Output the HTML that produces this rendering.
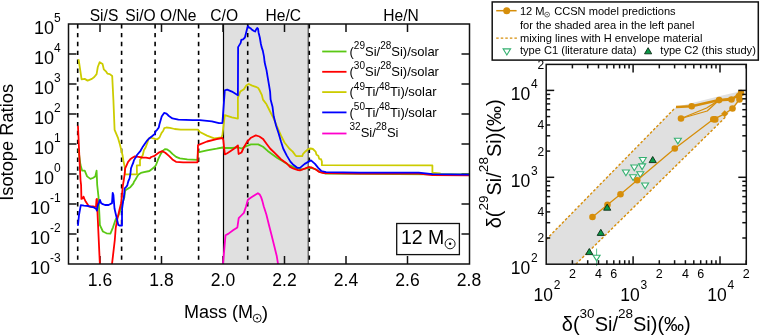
<!DOCTYPE html><html><head><meta charset="utf-8"><style>html,body{margin:0;padding:0;background:#fff;overflow:hidden}svg{display:block;will-change:transform;font-family:"Liberation Sans",sans-serif}</style></head><body>
<svg width="760" height="335" viewBox="0 0 760 335">
<defs><clipPath id="cl"><rect x="68.5" y="24" width="401" height="240"/></clipPath><clipPath id="cr"><rect x="546" y="64.2" width="200.2" height="199.8"/></clipPath></defs>
<rect x="223.5" y="24" width="84.7" height="240" fill="#e0e0e0"/>
<line x1="308.2" y1="24" x2="308.2" y2="264" stroke="#222" stroke-width="0.9"/>
<line x1="223.5" y1="24" x2="223.5" y2="264" stroke="#000" stroke-width="1.2"/>
<line x1="77.7" y1="24" x2="77.7" y2="264" stroke="#000" stroke-width="1.6" stroke-dasharray="4.4 4.5"/>
<line x1="121.6" y1="24" x2="121.6" y2="264" stroke="#000" stroke-width="1.6" stroke-dasharray="4.4 4.5"/>
<line x1="155.1" y1="24" x2="155.1" y2="264" stroke="#000" stroke-width="1.6" stroke-dasharray="4.4 4.5"/>
<line x1="198.6" y1="24" x2="198.6" y2="264" stroke="#000" stroke-width="1.6" stroke-dasharray="4.4 4.5"/>
<line x1="247.7" y1="24" x2="247.7" y2="264" stroke="#000" stroke-width="1.6" stroke-dasharray="4.4 4.5"/>
<line x1="309.3" y1="24" x2="309.3" y2="264" stroke="#000" stroke-width="1.6" stroke-dasharray="4.4 4.5"/>
<g stroke="#111" stroke-width="1.5" fill="none">
<line x1="68.5" y1="234" x2="76.5" y2="234"/><line x1="461.5" y1="234" x2="469.5" y2="234"/>
<line x1="68.5" y1="204" x2="76.5" y2="204"/><line x1="461.5" y1="204" x2="469.5" y2="204"/>
<line x1="68.5" y1="174" x2="76.5" y2="174"/><line x1="461.5" y1="174" x2="469.5" y2="174"/>
<line x1="68.5" y1="144" x2="76.5" y2="144"/><line x1="461.5" y1="144" x2="469.5" y2="144"/>
<line x1="68.5" y1="114" x2="76.5" y2="114"/><line x1="461.5" y1="114" x2="469.5" y2="114"/>
<line x1="68.5" y1="84" x2="76.5" y2="84"/><line x1="461.5" y1="84" x2="469.5" y2="84"/>
<line x1="68.5" y1="54" x2="76.5" y2="54"/><line x1="461.5" y1="54" x2="469.5" y2="54"/>
<line x1="100.0" y1="24.0" x2="100.0" y2="32.0"/><line x1="100.0" y1="256.0" x2="100.0" y2="264.0"/>
<line x1="161.5" y1="24.0" x2="161.5" y2="32.0"/><line x1="161.5" y1="256.0" x2="161.5" y2="264.0"/>
<line x1="222.99999999999997" y1="24.0" x2="222.99999999999997" y2="32.0"/><line x1="222.99999999999997" y1="256.0" x2="222.99999999999997" y2="264.0"/>
<line x1="284.5" y1="24.0" x2="284.5" y2="32.0"/><line x1="284.5" y1="256.0" x2="284.5" y2="264.0"/>
<line x1="345.99999999999994" y1="24.0" x2="345.99999999999994" y2="32.0"/><line x1="345.99999999999994" y1="256.0" x2="345.99999999999994" y2="264.0"/>
<line x1="407.5" y1="24.0" x2="407.5" y2="32.0"/><line x1="407.5" y1="256.0" x2="407.5" y2="264.0"/>
</g>
<g clip-path="url(#cl)" fill="none" stroke-width="1.8" stroke-linejoin="round" stroke-linecap="round">
<polyline points="78.5,150.0 80.5,165.0 82.2,170.7 84.7,170.7 87.1,176.4 90.4,178.9 92.9,178.0 95.3,176.4 96.6,170.7 97.2,185.0 98.5,196.9 99.4,214.8 99.9,225.2 102.9,231.5 106.5,233.3 110.4,233.6 113.0,227.3 115.7,219.3 118.4,215.7 120.3,210.2 122.5,203.0 124.3,197.7 125.1,191.0 126.2,189.6 128.4,188.4 130.3,187.3 131.8,185.4 133.3,183.6 134.0,181.7 135.5,179.5 137.0,176.9 138.5,174.4 140.9,172.9 144.0,172.1 149.4,171.0 152.0,169.0 154.5,167.0 156.0,165.0 158.2,159.1 160.4,154.6 162.7,150.9 164.9,149.1 167.2,149.4 169.4,150.9 172.4,153.9 176.1,156.9 179.9,158.4 187.3,159.4 197.5,159.9 198.0,152.3 207.0,150.4 216.6,148.7 222.6,147.5 224.8,148.0 231.9,148.0 237.9,147.3 241.5,148.5 246.3,146.1 251.0,144.4 258.2,144.4 263.0,146.8 267.7,150.9 272.5,154.4 277.3,158.0 283.2,161.6 289.2,165.2 296.4,168.3 302.0,169.5 308.0,168.0 311.0,167.8 316.0,169.5 320.0,172.0 325.0,173.5 469.0,174.5" stroke="#5ac814"/>
<polyline points="78.7,59.8 81.6,79.4 84.7,78.9 87.6,80.6 91.9,78.9 94.3,77.0 96.6,74.1 97.8,67.0 99.7,62.2 102.6,64.1 103.8,69.3 106.2,71.7 107.4,73.6 109.8,74.1 112.2,76.0 113.4,100.0 114.6,129.8 118.1,138.2 119.9,144.5 122.5,155.0 123.4,160.7 124.9,167.9 124.9,174.3 137.0,174.3 136.8,165.4 140.0,165.4 140.0,160.0 141.3,157.9 142.8,155.0 143.9,150.2 145.6,147.5 147.3,143.0 148.7,138.5 150.5,137.6 152.3,138.2 155.2,138.9 157.3,139.3 159.5,137.5 160.4,135.5 161.6,132.8 163.1,131.0 164.3,128.1 166.4,127.5 169.9,127.8 174.7,129.0 180.7,129.6 198.0,129.6 199.9,132.0 207.0,135.6 214.2,138.4 221.4,137.5 222.4,135.0 224.8,115.1 231.9,117.4 237.9,118.6 237.9,97.6 240.3,91.6 243.9,89.2 246.3,85.6 248.7,84.0 252.2,85.6 255.8,86.8 258.2,88.0 259.4,90.0 261.8,94.8 263.0,99.6 266.5,104.3 270.1,111.5 273.7,118.6 277.3,127.0 280.9,135.4 284.5,142.5 289.2,148.5 292.7,151.6 295.0,154.8 296.3,156.1 302.2,156.1 303.1,153.9 305.7,151.2 308.4,149.0 310.7,148.5 312.9,149.0 315.6,151.6 316.5,154.8 318.3,155.7 319.2,158.8 321.0,159.2 321.9,161.5 321.9,165.2 432.4,165.4 432.4,172.7 440.0,173.3" stroke="#cccc00"/>
<polyline points="78.0,126.5 79.5,160.0 80.5,180.0 81.1,185.0 81.4,198.9 82.6,198.4 83.5,196.6 84.4,198.9 85.7,201.6 87.5,204.2 88.9,206.5 93.0,206.5 95.1,206.9 96.0,206.5 96.5,199.3 96.9,198.9 97.2,206.5 97.6,215.0 99.9,265.0" stroke="#ff0000"/>
<polyline points="111.9,265.0 114.8,240.0 115.7,228.2 117.5,218.4 119.3,210.4 121.1,203.2 122.0,194.3 122.9,185.4 123.8,180.0 124.5,175.0 125.2,168.3 127.0,164.3 128.1,161.8 130.2,159.3 132.7,157.5 134.9,156.4 138.5,156.8 142.1,157.5 146.0,157.6 149.8,158.3 151.2,157.0 154.5,155.9 156.6,154.3 159.3,152.3 162.2,151.1 165.3,152.8 168.9,155.9 172.4,159.4 176.0,161.8 183.2,162.3 197.5,162.3 198.0,145.1 207.0,141.5 216.6,139.2 222.4,138.0 223.3,140.0 224.8,154.4 227.2,153.2 230.7,150.9 234.3,148.5 237.9,145.4 238.6,154.0 241.5,152.5 243.9,147.3 247.5,141.3 251.0,137.7 255.8,135.4 259.4,136.5 263.0,138.9 266.5,143.7 270.1,148.5 274.9,153.2 280.9,159.2 286.8,163.5 290.0,166.9 293.6,168.7 298.1,170.1 300.0,170.3 304.7,168.7 308.7,167.1 311.8,167.5 315.8,169.5 318.9,171.8 322.9,173.0 360.0,173.6 418.7,173.6 432.4,175.0 469.0,175.4" stroke="#ff0000"/>
<polyline points="78.0,225.2 79.0,215.0 80.8,205.1 84.0,205.6 88.4,206.0 91.1,206.9 93.8,207.4 96.0,208.7 96.9,210.5 97.8,205.6 99.0,202.5 99.9,199.8 101.0,202.9 102.8,204.2 105.0,205.0 108.6,205.0 110.0,204.2 112.0,203.1 112.4,197.0 112.7,192.8 113.4,195.0 114.5,208.5 115.8,214.3 117.2,220.1 118.3,225.0 119.3,225.5 122.0,225.5 122.0,215.7 122.1,208.5 123.0,202.2 123.9,196.8 124.3,193.7 124.7,188.4 126.2,186.9 127.3,185.4 127.7,183.6 128.4,181.0 129.6,178.4 130.4,174.0 130.7,171.0 131.0,168.3 132.0,165.7 133.1,163.2 133.8,160.7 134.9,158.6 136.3,156.4 137.0,155.0 140.5,150.8 143.0,146.4 145.2,143.2 147.3,140.3 149.5,138.2 152.3,136.0 154.8,133.9 155.6,131.4 157.3,129.6 158.8,127.4 159.4,124.5 161.7,116.5 164.1,112.9 166.5,113.6 168.9,116.0 172.4,118.4 178.4,119.6 192.7,120.1 199.9,120.1 211.8,121.3 219.0,123.2 222.4,123.0 224.8,90.4 227.2,89.7 231.9,91.6 237.9,95.2 238.1,47.1 240.7,42.9 241.3,39.9 243.1,39.3 244.9,37.5 246.1,32.7 247.3,28.0 247.9,26.2 249.1,27.4 250.9,28.6 252.1,29.8 253.9,31.0 255.1,31.5 256.3,29.2 257.2,28.0 258.0,28.6 258.6,32.7 259.8,37.5 260.8,43.5 261.6,47.1 262.8,50.6 264.0,56.6 264.6,62.0 265.5,66.0 266.5,70.1 267.7,77.3 268.9,84.4 270.1,91.6 270.6,99.6 272.5,106.7 273.7,116.3 276.1,125.8 278.5,133.0 280.9,141.3 283.2,148.5 286.8,155.6 290.4,161.6 292.7,164.2 297.2,167.8 300.0,167.9 304.7,163.9 308.7,161.6 311.0,160.4 315.0,163.9 318.2,167.9 321.3,171.0 326.0,172.2 360.0,172.6 418.7,172.6 432.4,174.1 469.0,174.6" stroke="#0000ff"/>
<polyline points="222.9,265.0 225.5,235.3 228.2,233.9 233.4,230.0 237.4,227.4 238.7,218.2 241.3,215.5 243.9,212.9 246.1,206.3 247.9,199.7 251.8,197.1 255.8,194.5 257.9,193.2 259.7,194.5 261.1,197.1 262.4,201.1 263.7,206.3 266.3,214.2 268.9,224.7 271.6,235.3 274.2,245.8 276.8,256.3 278.2,265.0" stroke="#ff00cc"/>
</g>
<g stroke="#111" stroke-width="1.5" fill="none">
<rect x="68.5" y="24.0" width="401.0" height="240.0"/>
</g>
<text x="60.7" y="274.0" font-size="18" text-anchor="end" fill="#000">10<tspan font-size="12" dy="-12">-3</tspan></text>
<text x="60.7" y="244.0" font-size="18" text-anchor="end" fill="#000">10<tspan font-size="12" dy="-12">-2</tspan></text>
<text x="60.7" y="214.0" font-size="18" text-anchor="end" fill="#000">10<tspan font-size="12" dy="-12">-1</tspan></text>
<text x="60.7" y="184.0" font-size="18" text-anchor="end" fill="#000">10<tspan font-size="12" dy="-12">0</tspan></text>
<text x="60.7" y="154.0" font-size="18" text-anchor="end" fill="#000">10<tspan font-size="12" dy="-12">1</tspan></text>
<text x="60.7" y="124.0" font-size="18" text-anchor="end" fill="#000">10<tspan font-size="12" dy="-12">2</tspan></text>
<text x="60.7" y="94.0" font-size="18" text-anchor="end" fill="#000">10<tspan font-size="12" dy="-12">3</tspan></text>
<text x="60.7" y="64.0" font-size="18" text-anchor="end" fill="#000">10<tspan font-size="12" dy="-12">4</tspan></text>
<text x="60.7" y="34.0" font-size="18" text-anchor="end" fill="#000">10<tspan font-size="12" dy="-12">5</tspan></text>
<text x="100.0" y="286" font-size="17.5" text-anchor="middle">1.6</text>
<text x="161.5" y="286" font-size="17.5" text-anchor="middle">1.8</text>
<text x="223.0" y="286" font-size="17.5" text-anchor="middle">2.0</text>
<text x="284.5" y="286" font-size="17.5" text-anchor="middle">2.2</text>
<text x="346.0" y="286" font-size="17.5" text-anchor="middle">2.4</text>
<text x="407.5" y="286" font-size="17.5" text-anchor="middle">2.6</text>
<text x="469.0" y="286" font-size="17.5" text-anchor="middle">2.8</text>
<text x="184" y="318.4" font-size="18">Mass (M</text>
<text x="261.8" y="318.6" font-size="19">)</text>
<circle cx="257.2" cy="318.2" r="4" fill="none" stroke="#000" stroke-width="0.9"/><circle cx="257.2" cy="318.2" r="1" fill="#000"/>
<text transform="translate(12.8,200.8) rotate(-90)" font-size="18.3">Isotope Ratios</text>
<text x="89.7" y="20.9" font-size="15.6">Si/S</text>
<text x="125.3" y="20.9" font-size="15.6">Si/O</text>
<text x="160" y="20.9" font-size="15.6">O/Ne</text>
<text x="210.3" y="20.9" font-size="15.6">C/O</text>
<text x="265.6" y="20.9" font-size="15.6">He/C</text>
<text x="383.3" y="20.9" font-size="15.6">He/N</text>
<line x1="322.2" y1="51.5" x2="346.5" y2="51.5" stroke="#5ac814" stroke-width="1.8"/>
<text x="349.5" y="55.8" font-size="13">(<tspan font-size="10" dy="-6.8">29</tspan><tspan dy="6.8">Si/</tspan><tspan font-size="10" dy="-6.8">28</tspan><tspan dy="6.8">Si)/solar</tspan></text>
<line x1="322.2" y1="71.8" x2="346.5" y2="71.8" stroke="#ff0000" stroke-width="1.8"/>
<text x="349.5" y="76.1" font-size="13">(<tspan font-size="10" dy="-6.8">30</tspan><tspan dy="6.8">Si/</tspan><tspan font-size="10" dy="-6.8">28</tspan><tspan dy="6.8">Si)/solar</tspan></text>
<line x1="322.2" y1="92.1" x2="346.5" y2="92.1" stroke="#cccc00" stroke-width="1.8"/>
<text x="349.5" y="96.4" font-size="13">(<tspan font-size="10" dy="-6.8">49</tspan><tspan dy="6.8">Ti/</tspan><tspan font-size="10" dy="-6.8">48</tspan><tspan dy="6.8">Ti)/solar</tspan></text>
<line x1="322.2" y1="112.4" x2="346.5" y2="112.4" stroke="#0000ff" stroke-width="1.8"/>
<text x="349.5" y="116.7" font-size="13">(<tspan font-size="10" dy="-6.8">50</tspan><tspan dy="6.8">Ti/</tspan><tspan font-size="10" dy="-6.8">48</tspan><tspan dy="6.8">Ti)/solar</tspan></text>
<line x1="322.2" y1="133.5" x2="346.5" y2="133.5" stroke="#ff00cc" stroke-width="1.8"/>
<text x="349.5" y="136.7" font-size="13"><tspan font-size="10" dy="-6.8">32</tspan><tspan dy="6.8">Si/</tspan><tspan font-size="10" dy="-6.8">28</tspan><tspan dy="6.8">Si</tspan></text>
<rect x="396.7" y="223.5" width="62.7" height="31.1" fill="#fff" stroke="#111" stroke-width="1.3"/>
<text x="401" y="243.7" font-size="19.5">12 M</text>
<circle cx="450.1" cy="243.8" r="5" fill="none" stroke="#000" stroke-width="0.9"/><circle cx="450.1" cy="243.8" r="1.2" fill="#000"/>
<polygon points="546.2,239.5 675.0,108.0 676.0,107.0 720.0,96.0 741.5,91.0 742.0,97.0 734.0,106.0 726.0,116.6 575.8,264.2 546.2,264.2" fill="#e0e0e0"/>
<g stroke="#d68e0a" stroke-width="1.4" stroke-dasharray="2.6 1.9" fill="none">
<line x1="546.2" y1="239.5" x2="675" y2="108"/>
<line x1="575.8" y1="264.2" x2="726" y2="116.6"/>
</g>
<line x1="596.6" y1="248.6" x2="596.6" y2="266" stroke="#34b070" stroke-width="0.8"/>
<polygon points="593.1,255.2 600.1,255.2 596.6,260.9" fill="#fff" stroke="#34b070" stroke-width="1.1"/>
<polygon points="622.4,170.0 629.4,170.0 625.9,175.7" fill="#fff" stroke="#34b070" stroke-width="1.1"/>
<polygon points="630.8,165.0 637.8,165.0 634.3,170.7" fill="#fff" stroke="#34b070" stroke-width="1.1"/>
<polygon points="639.3,157.5 646.3,157.5 642.8,163.2" fill="#fff" stroke="#34b070" stroke-width="1.1"/>
<polygon points="638.6,163.9 645.6,163.9 642.1,169.6" fill="#fff" stroke="#34b070" stroke-width="1.1"/>
<polygon points="636.8,171.7 643.8,171.7 640.3,177.4" fill="#fff" stroke="#34b070" stroke-width="1.1"/>
<polygon points="629.6,174.8 636.6,174.8 633.1,180.5" fill="#fff" stroke="#34b070" stroke-width="1.1"/>
<polygon points="641.6,183.0 648.6,183.0 645.1,188.7" fill="#fff" stroke="#34b070" stroke-width="1.1"/>
<polygon points="674.4,138.2 681.4,138.2 677.9,143.9" fill="#fff" stroke="#34b070" stroke-width="1.1"/>
<g stroke="#d68e0a" fill="none" stroke-width="1.3" stroke-linejoin="round" clip-path="url(#cr)">
<polyline points="592.5,217.0 607.5,204.8 620.5,194.3 637.2,180.2 674.8,148.5 713.3,119.3 715.0,119.3"/>
<polyline points="713.3,119.3 724.7,113.8 732.5,108.5 739.5,99.5 741.0,94.0"/>
<polyline points="676.0,107.0 691.7,106.3 719.1,100.1 731.5,99.5 740.5,93.5" stroke-width="2.6"/>
<polyline points="681.0,118.5 706.6,108.0 719.1,100.1"/>
<polyline points="681.0,118.5 707.2,111.0 719.1,100.1"/>
<polyline points="719.1,100.1 740.0,96.5"/>
</g>
<g fill="#d68e0a">
<circle cx="592.5" cy="217" r="3.3"/>
<circle cx="607.5" cy="204.8" r="3.3"/>
<circle cx="620.5" cy="194.3" r="3.3"/>
<circle cx="637.2" cy="180.2" r="3.3"/>
<circle cx="674.8" cy="148.5" r="3.3"/>
<circle cx="713.3" cy="119.3" r="3.3"/>
<circle cx="715.2" cy="119.4" r="3.3"/>
<circle cx="732.5" cy="108.5" r="3.3"/>
<circle cx="739.5" cy="99.5" r="3.3"/>
<circle cx="741" cy="93" r="3.3"/>
<circle cx="739" cy="96" r="3.3"/>
<circle cx="691.7" cy="106.3" r="3.3"/>
<circle cx="719.1" cy="100.1" r="3.3"/>
<circle cx="731.5" cy="99.5" r="3.3"/>
<circle cx="681" cy="118.5" r="3.3"/>
<rect x="722.2" y="111.3" width="5" height="5" transform="rotate(45 724.7 113.8)"/>
</g>
<polygon points="597.2,235.4 604.4,235.4 600.8,229.3" fill="#0a9a48" stroke="#0a2a14" stroke-width="0.9"/>
<polygon points="585.7,254.6 592.9,254.6 589.3,248.5" fill="#0a9a48" stroke="#0a2a14" stroke-width="0.9"/>
<polygon points="603.6,210.2 610.8,210.2 607.2,204.1" fill="#0a9a48" stroke="#0a2a14" stroke-width="0.9"/>
<polygon points="649.1,162.6 656.3,162.6 652.7,156.5" fill="#0a9a48" stroke="#0a2a14" stroke-width="0.9"/>
<g stroke="#111" stroke-width="1.5" fill="none">
<rect x="546.2" y="64.4" width="200.1" height="199.8"/>
<line x1="572.4" y1="264.2" x2="572.4" y2="260.2"/><line x1="572.4" y1="64.4" x2="572.4" y2="68.4"/>
<line x1="546.2" y1="238.0" x2="550.2" y2="238.0"/><line x1="746.3" y1="238.0" x2="742.3" y2="238.0"/>
<line x1="587.7" y1="264.2" x2="587.7" y2="260.2"/><line x1="587.7" y1="64.4" x2="587.7" y2="68.4"/>
<line x1="546.2" y1="222.7" x2="550.2" y2="222.7"/><line x1="746.3" y1="222.7" x2="742.3" y2="222.7"/>
<line x1="598.5" y1="264.2" x2="598.5" y2="260.2"/><line x1="598.5" y1="64.4" x2="598.5" y2="68.4"/>
<line x1="546.2" y1="211.9" x2="550.2" y2="211.9"/><line x1="746.3" y1="211.9" x2="742.3" y2="211.9"/>
<line x1="606.9" y1="264.2" x2="606.9" y2="260.2"/><line x1="606.9" y1="64.4" x2="606.9" y2="68.4"/>
<line x1="546.2" y1="203.5" x2="550.2" y2="203.5"/><line x1="746.3" y1="203.5" x2="742.3" y2="203.5"/>
<line x1="613.8" y1="264.2" x2="613.8" y2="260.2"/><line x1="613.8" y1="64.4" x2="613.8" y2="68.4"/>
<line x1="546.2" y1="196.6" x2="550.2" y2="196.6"/><line x1="746.3" y1="196.6" x2="742.3" y2="196.6"/>
<line x1="619.6" y1="264.2" x2="619.6" y2="260.2"/><line x1="619.6" y1="64.4" x2="619.6" y2="68.4"/>
<line x1="546.2" y1="190.8" x2="550.2" y2="190.8"/><line x1="746.3" y1="190.8" x2="742.3" y2="190.8"/>
<line x1="624.7" y1="264.2" x2="624.7" y2="260.2"/><line x1="624.7" y1="64.4" x2="624.7" y2="68.4"/>
<line x1="546.2" y1="185.7" x2="550.2" y2="185.7"/><line x1="746.3" y1="185.7" x2="742.3" y2="185.7"/>
<line x1="629.1" y1="264.2" x2="629.1" y2="260.2"/><line x1="629.1" y1="64.4" x2="629.1" y2="68.4"/>
<line x1="546.2" y1="181.3" x2="550.2" y2="181.3"/><line x1="746.3" y1="181.3" x2="742.3" y2="181.3"/>
<line x1="633.1" y1="264.2" x2="633.1" y2="256.2"/><line x1="633.1" y1="64.4" x2="633.1" y2="72.4"/>
<line x1="546.2" y1="177.3" x2="554.2" y2="177.3"/><line x1="746.3" y1="177.3" x2="738.3" y2="177.3"/>
<line x1="659.3" y1="264.2" x2="659.3" y2="260.2"/><line x1="659.3" y1="64.4" x2="659.3" y2="68.4"/>
<line x1="546.2" y1="151.1" x2="550.2" y2="151.1"/><line x1="746.3" y1="151.1" x2="742.3" y2="151.1"/>
<line x1="674.6" y1="264.2" x2="674.6" y2="260.2"/><line x1="674.6" y1="64.4" x2="674.6" y2="68.4"/>
<line x1="546.2" y1="135.8" x2="550.2" y2="135.8"/><line x1="746.3" y1="135.8" x2="742.3" y2="135.8"/>
<line x1="685.4" y1="264.2" x2="685.4" y2="260.2"/><line x1="685.4" y1="64.4" x2="685.4" y2="68.4"/>
<line x1="546.2" y1="125.0" x2="550.2" y2="125.0"/><line x1="746.3" y1="125.0" x2="742.3" y2="125.0"/>
<line x1="693.8" y1="264.2" x2="693.8" y2="260.2"/><line x1="693.8" y1="64.4" x2="693.8" y2="68.4"/>
<line x1="546.2" y1="116.6" x2="550.2" y2="116.6"/><line x1="746.3" y1="116.6" x2="742.3" y2="116.6"/>
<line x1="700.7" y1="264.2" x2="700.7" y2="260.2"/><line x1="700.7" y1="64.4" x2="700.7" y2="68.4"/>
<line x1="546.2" y1="109.7" x2="550.2" y2="109.7"/><line x1="746.3" y1="109.7" x2="742.3" y2="109.7"/>
<line x1="706.5" y1="264.2" x2="706.5" y2="260.2"/><line x1="706.5" y1="64.4" x2="706.5" y2="68.4"/>
<line x1="546.2" y1="103.9" x2="550.2" y2="103.9"/><line x1="746.3" y1="103.9" x2="742.3" y2="103.9"/>
<line x1="711.6" y1="264.2" x2="711.6" y2="260.2"/><line x1="711.6" y1="64.4" x2="711.6" y2="68.4"/>
<line x1="546.2" y1="98.8" x2="550.2" y2="98.8"/><line x1="746.3" y1="98.8" x2="742.3" y2="98.8"/>
<line x1="716.0" y1="264.2" x2="716.0" y2="260.2"/><line x1="716.0" y1="64.4" x2="716.0" y2="68.4"/>
<line x1="546.2" y1="94.4" x2="550.2" y2="94.4"/><line x1="746.3" y1="94.4" x2="742.3" y2="94.4"/>
<line x1="720.0" y1="264.2" x2="720.0" y2="256.2"/><line x1="720.0" y1="64.4" x2="720.0" y2="72.4"/>
<line x1="546.2" y1="90.4" x2="554.2" y2="90.4"/><line x1="746.3" y1="90.4" x2="738.3" y2="90.4"/>
<line x1="746.2" y1="264.2" x2="746.2" y2="260.2"/><line x1="746.2" y1="64.4" x2="746.2" y2="68.4"/>
</g>
<text x="572.4" y="277.8" font-size="12.5" text-anchor="middle">2</text>
<text x="598.5" y="277.8" font-size="12.5" text-anchor="middle">4</text>
<text x="613.8" y="277.8" font-size="12.5" text-anchor="middle">6</text>
<text x="659.3" y="277.8" font-size="12.5" text-anchor="middle">2</text>
<text x="685.4" y="277.8" font-size="12.5" text-anchor="middle">4</text>
<text x="700.7" y="277.8" font-size="12.5" text-anchor="middle">6</text>
<text x="746.2" y="277.8" font-size="12.5" text-anchor="middle">2</text>
<text x="546.9" y="300.5" font-size="17.5" text-anchor="middle">10<tspan font-size="12" dx="0.8" dy="-12">2</tspan></text>
<text x="633.8" y="300.5" font-size="17.5" text-anchor="middle">10<tspan font-size="12" dx="0.8" dy="-12">3</tspan></text>
<text x="720.7" y="300.5" font-size="17.5" text-anchor="middle">10<tspan font-size="12" dx="0.8" dy="-12">4</tspan></text>
<text x="544.3" y="242.4" font-size="12" text-anchor="end">2</text>
<text x="544.3" y="216.3" font-size="12" text-anchor="end">4</text>
<text x="544.3" y="155.5" font-size="12" text-anchor="end">2</text>
<text x="544.3" y="129.4" font-size="12" text-anchor="end">4</text>
<text x="544.3" y="68.6" font-size="12" text-anchor="end">2</text>
<text x="537.6" y="273.7" font-size="17.5" text-anchor="end">10<tspan font-size="12" dx="0.6" dy="-12">2</tspan></text>
<text x="537.6" y="186.8" font-size="17.5" text-anchor="end">10<tspan font-size="12" dx="0.6" dy="-12">3</tspan></text>
<text x="537.6" y="99.9" font-size="17.5" text-anchor="end">10<tspan font-size="12" dx="0.6" dy="-12">4</tspan></text>
<text x="561.8" y="330.5" font-size="20">δ(<tspan font-size="13.5" dy="-12.8">30</tspan><tspan dy="12.8">Si/</tspan><tspan font-size="13.5" dy="-12.8">28</tspan><tspan dy="12.8">Si)(‰)</tspan></text>
<text transform="translate(500.5,228.3) rotate(-90)" font-size="20">δ(<tspan font-size="13.5" dy="-12.8">29</tspan><tspan dy="12.8">Si/</tspan><tspan font-size="13.5" dy="-12.8">28</tspan><tspan dy="12.8">Si)(‰)</tspan></text>
<rect x="492.2" y="1.95" width="266.1" height="58.15" fill="#fff" stroke="#111" stroke-width="1.5"/>
<line x1="496.2" y1="10.7" x2="516.6" y2="10.7" stroke="#d68e0a" stroke-width="1.5"/><circle cx="506.7" cy="10.7" r="3.5" fill="#d68e0a"/>
<text x="519.9" y="15.1" font-size="11.1">12 M<tspan dx="6.5"> CCSN model predictions</tspan></text>
<circle cx="547.1" cy="14.6" r="2.4" fill="none" stroke="#000" stroke-width="0.6"/><circle cx="547.1" cy="14.6" r="0.6" fill="#000"/>
<text x="519.9" y="28.7" font-size="11.1">for the shaded area in the left panel</text>
<line x1="496.2" y1="38.1" x2="516.9" y2="38.1" stroke="#d68e0a" stroke-width="1.3" stroke-dasharray="2.5 2.05"/>
<text x="519.9" y="41.7" font-size="11.1">mixing lines with H envelope material</text>
<polygon points="503.1,48.9 510.6,48.9 506.85,55" fill="#fff" stroke="#34b070" stroke-width="1.1"/>
<text x="519.9" y="54.3" font-size="11.1">type C1 (literature data)</text>
<polygon points="644.5,53.8 651.7,53.8 648.1,47.7" fill="#0a9a48" stroke="#0a2a14" stroke-width="0.9"/>
<text x="660.3" y="54.3" font-size="11.1">type C2 (this study)</text>
</svg></body></html>
